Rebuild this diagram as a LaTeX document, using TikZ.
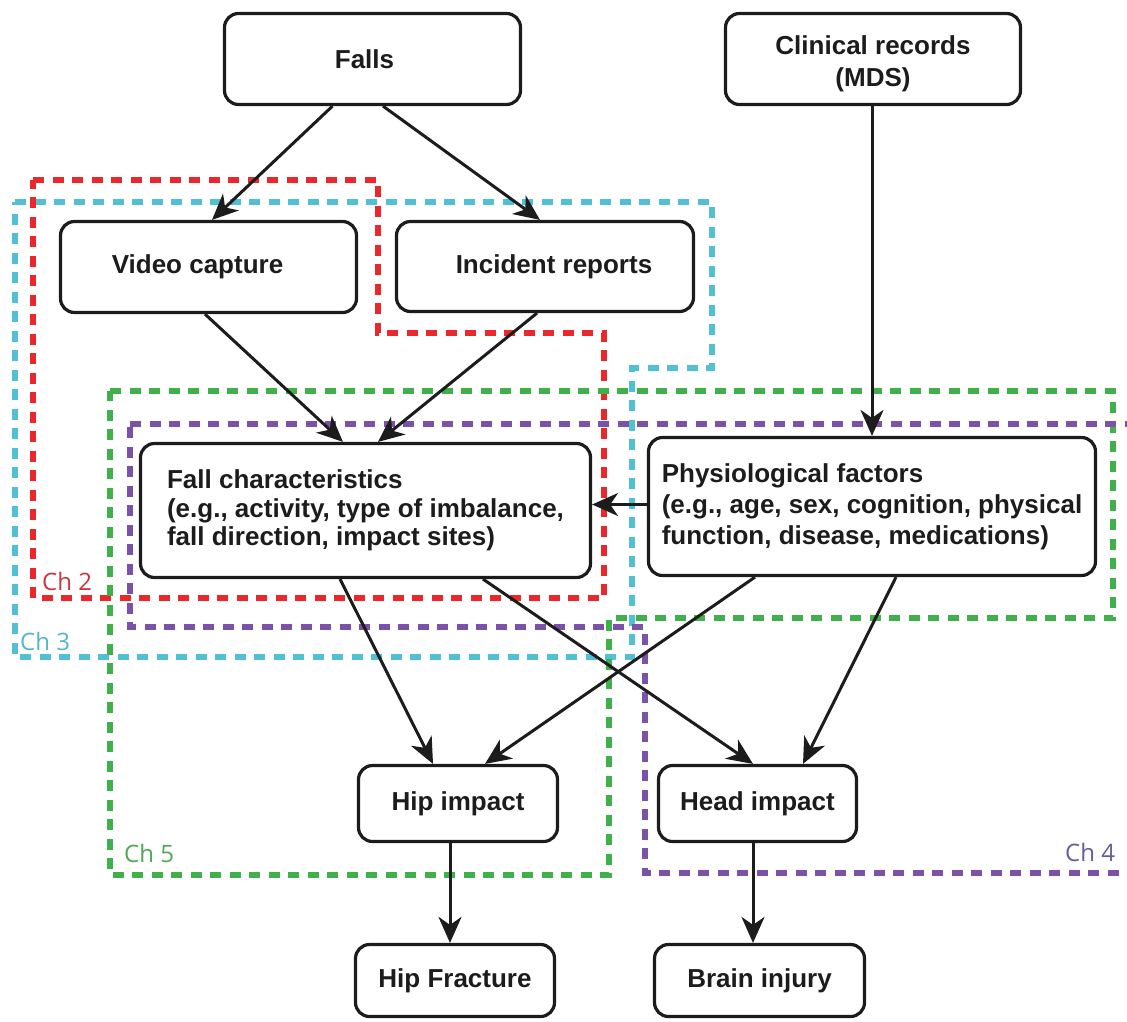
\documentclass[tikz,border=0pt]{standalone}
\usepackage{fontspec}
\setmainfont{Liberation Sans}
\newfontfamily\chfont{Open Sans}
\usetikzlibrary{arrows.meta}
\definecolor{cred}{RGB}{234,40,44}
\definecolor{ccyan}{RGB}{82,192,212}
\definecolor{cgreen}{RGB}{64,176,74}
\definecolor{cpurple}{RGB}{122,82,168}
\definecolor{lred}{RGB}{205,55,60}
\definecolor{lcyan}{RGB}{85,182,202}
\definecolor{lgreen}{RGB}{80,168,84}
\definecolor{lpurple}{RGB}{106,92,150}
\definecolor{ink}{RGB}{28,28,28}
\begin{document}
\begin{tikzpicture}[x=1pt,y=-1pt,
  box/.style={draw=ink, line width=3.2pt, rounded corners=14pt, fill=white,
    font=\fontsize{26}{28.5}\selectfont\bfseries, text=ink, inner sep=0pt},
  arr/.style={draw=ink, line width=3pt, -{Stealth[length=26pt,width=23pt,inset=8pt]}},
  zone/.style={line width=5.5pt, dash pattern=on 11pt off 8.5pt},
  chlab/.style={font=\chfont\fontsize{24}{24}\selectfont, anchor=base west, inner sep=0pt}]
\useasboundingbox (0,0) rectangle (1127,1021);
\clip (0,0) rectangle (1127,1021);

% chapter zones
\draw[zone, draw=ccyan] (15,202) -- (712,202) -- (712,368) -- (632,368) -- (632,657) -- (15,657) -- cycle;
\draw[zone, draw=cred] (33,180) -- (378,180) -- (378,333) -- (604,333) -- (604,598) -- (33,598) -- cycle;
\draw[zone, draw=cgreen] (110,391) -- (1113,391) -- (1113,618) -- (609,618) -- (609,875) -- (110,875) -- cycle;
\draw[zone, draw=cpurple] (130,424) -- (1131,424) -- (1131,873) -- (645,873) -- (645,627) -- (130,627) -- cycle;

\node[chlab, text=lred] (ch2) at (42,590) {Ch 2};
\node[chlab, text=lcyan] (ch3) at (20,650) {Ch 3};
\node[chlab, text=lgreen] (ch5) at (124,862) {Ch 5};
\node[chlab, text=lpurple] (ch4) at (1065,861) {Ch 4};

% boxes
\node[box, minimum width=296pt, minimum height=91pt] (falls) at (372.5,59) {Falls\hspace{16pt}\null};
\node[box, minimum width=295pt, minimum height=91pt, align=center] (clinical) at (873,59)
  {\rule{0pt}{28pt}Clinical records\\[4pt](MDS)};
\node[box, minimum width=296pt, minimum height=91pt] (video) at (208.5,267) {Video capture\hspace{22pt}\null};
\node[box, minimum width=297pt, minimum height=90pt] (incident) at (545,266.5) {\hspace{18pt}Incident reports};
\node[box, minimum width=450pt, minimum height=134pt, align=left] (fallchar) at (365.5,510.5)
  {Fall characteristics\\(e.g., activity, type of imbalance,\\fall direction, impact sites)};
\node[box, minimum width=447pt, minimum height=138pt, align=left,
  font=\fontsize{26}{31}\selectfont\bfseries] (physio) at (872,506.5)
  {Physiological factors\\(e.g., age, sex, cognition, physical\\function, disease, medications)};
\node[box, minimum width=199pt, minimum height=76pt] (hip) at (458,803.5) {Hip impact};
\node[box, minimum width=198pt, minimum height=76pt] (head) at (757.5,803.5) {Head impact};
\node[box, minimum width=199pt, minimum height=72pt] (hipfx) at (455,980.5) {Hip Fracture};
\node[box, minimum width=210pt, minimum height=72pt] (brain) at (759.5,980.5) {Brain injury};

% connectors
\draw[arr] ([xshift=-40pt]falls.south) -- ([xshift=3.5pt]video.north);
\draw[arr] ([xshift=10.5pt]falls.south) -- ([xshift=-5pt]incident.north);
\draw[arr] ([xshift=-3.5pt]video.south) -- ([xshift=-22.5pt]fallchar.north);
\draw[arr] ([xshift=-8pt]incident.south) -- ([xshift=12.5pt]fallchar.north);
\draw[arr] ([xshift=-1pt]clinical.south) -- (physio.north);
\draw[arr] ([yshift=2pt]physio.west) -- ([yshift=2pt]physio.west -| fallchar.east);
\draw[arr] ([xshift=-25.5pt]fallchar.south) -- ([xshift=-25pt]hip.north);
\draw[arr] ([xshift=117.5pt]fallchar.south) -- ([xshift=-4.5pt]head.north);
\draw[arr] ([xshift=-117pt]physio.south) -- ([xshift=27pt]hip.north);
\draw[arr] ([xshift=24pt]physio.south) -- ([xshift=45.5pt]head.north);
\draw[arr] ([xshift=-8pt]hip.south) -- ([xshift=-8pt]hip.south |- hipfx.north);
\draw[arr] ([xshift=-4.5pt]head.south) -- ([xshift=-4.5pt]head.south |- brain.north);
\end{tikzpicture}
\end{document}
